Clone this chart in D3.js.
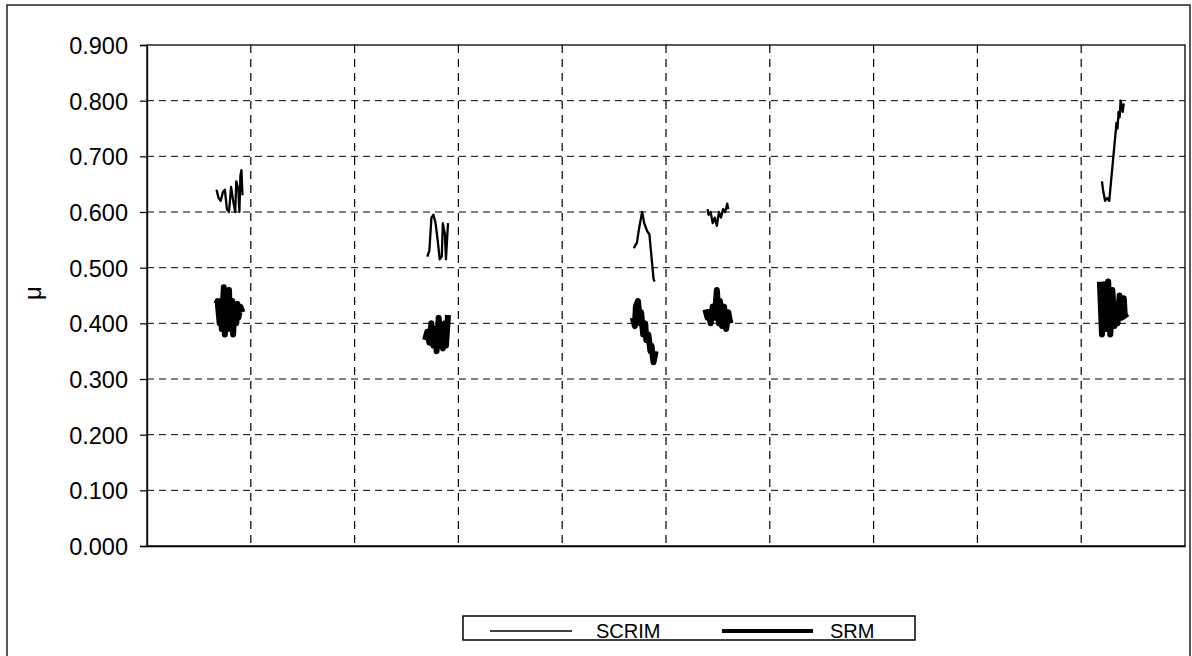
<!DOCTYPE html>
<html><head><meta charset="utf-8">
<script src="https://cdn.jsdelivr.net/npm/d3@7"></script>
<style>body{margin:0;background:#fff;}svg{display:block;font-family:"Liberation Sans",Arial,sans-serif;}</style>
</head><body>
<svg id="chart" width="1192" height="656"></svg>
<script>
// ---- data ----
const yTicks = [0, 0.1, 0.2, 0.3, 0.4, 0.5, 0.6, 0.7, 0.8, 0.9];
const xGrid = [1, 2, 3, 4, 5, 6, 7, 8, 9];
const seriesNames = ["SCRIM", "SRM"];

const scrim1X = [0.67,0.69,0.71,0.73,0.75,0.77,0.79,0.81,0.83,0.85,0.86,0.88,0.89,0.90,0.91,0.92];
const scrim1Y = [0.640,0.625,0.620,0.635,0.640,0.605,0.600,0.645,0.620,0.600,0.655,0.640,0.600,0.665,0.675,0.630];
const scrim2X = [2.70,2.72,2.74,2.76,2.78,2.80,2.82,2.84,2.85,2.87,2.88,2.90];
const scrim2Y = [0.520,0.530,0.590,0.595,0.580,0.550,0.515,0.520,0.580,0.560,0.515,0.580];
const scrim3X = [4.69,4.72,4.74,4.77,4.79,4.82,4.84,4.87,4.88,4.89];
const scrim3Y = [0.535,0.545,0.570,0.600,0.580,0.565,0.560,0.500,0.480,0.475];
const scrim4X = [5.40,5.41,5.43,5.45,5.47,5.49,5.51,5.53,5.55,5.57,5.59,5.60];
const scrim4Y = [0.605,0.595,0.600,0.580,0.590,0.575,0.600,0.590,0.605,0.600,0.615,0.605];
const scrim5X = [9.20,9.21,9.23,9.25,9.27,9.29,9.31,9.33,9.34,9.35,9.36,9.37,9.38,9.40,9.41];
const scrim5Y = [0.655,0.640,0.620,0.625,0.620,0.660,0.700,0.740,0.760,0.750,0.780,0.770,0.800,0.780,0.795];

const srm1X = [0.67,0.68,0.70,0.71,0.72,0.74,0.75,0.76,0.78,0.79,0.80,0.82,0.83,0.84,0.86,0.87,0.88,0.90,0.92];
const srm1Y = [0.435,0.440,0.400,0.440,0.390,0.465,0.380,0.450,0.390,0.460,0.395,0.440,0.380,0.430,0.400,0.435,0.410,0.430,0.420];
const srm2X = [2.68,2.70,2.72,2.74,2.76,2.78,2.79,2.81,2.83,2.85,2.87,2.88,2.90];
const srm2Y = [0.370,0.385,0.365,0.400,0.360,0.390,0.350,0.410,0.370,0.355,0.400,0.360,0.415];
const srm3X = [4.68,4.70,4.71,4.73,4.75,4.76,4.78,4.80,4.81,4.83,4.85,4.86,4.88,4.90];
const srm3Y = [0.410,0.395,0.430,0.440,0.400,0.420,0.380,0.400,0.370,0.380,0.350,0.360,0.330,0.350];
const srm4X = [5.38,5.40,5.41,5.43,5.45,5.47,5.49,5.51,5.52,5.54,5.56,5.58,5.60,5.62];
const srm4Y = [0.425,0.410,0.420,0.400,0.430,0.410,0.460,0.400,0.440,0.395,0.430,0.390,0.420,0.400];
const srm5X = [9.18,9.20,9.22,9.24,9.26,9.28,9.30,9.32,9.33,9.35,9.37,9.39,9.41,9.42,9.44];
const srm5Y = [0.475,0.380,0.470,0.390,0.475,0.380,0.460,0.395,0.430,0.400,0.450,0.410,0.445,0.415,0.410];

// ---- build ----
const zip = (xs, ys) => xs.map((x, i) => ({x, y: ys[i]}));
const scrimSegs = [zip(scrim1X,scrim1Y), zip(scrim2X,scrim2Y), zip(scrim3X,scrim3Y), zip(scrim4X,scrim4Y), zip(scrim5X,scrim5Y)];
const srmSegs = [zip(srm1X,srm1Y), zip(srm2X,srm2Y), zip(srm3X,srm3Y), zip(srm4X,srm4Y), zip(srm5X,srm5Y)];

const svg = d3.select("#chart");
const L = 147, R = 1185, T = 45, B = 546;
const x = d3.scaleLinear().domain([0, 10]).range([L, R]);
const y = d3.scaleLinear().domain([0, 0.9]).range([B, T]);
const FONT = '"Liberation Sans", Arial, sans-serif';

// outer frame
svg.append("rect").attr("x", 7).attr("y", 5).attr("width", 1183).attr("height", 700)
  .attr("fill", "none").attr("stroke", "#000").attr("stroke-width", 1.3);

// grid
const g = svg.append("g");
g.selectAll("line.hg").data(yTicks.filter(d => d > 0 && d < 0.9)).join("line")
  .attr("x1", L).attr("x2", R).attr("y1", d => y(d)).attr("y2", d => y(d))
  .attr("stroke", "#000").attr("stroke-width", 1).attr("stroke-dasharray", "7,5");
g.selectAll("line.vg").data(xGrid).join("line")
  .attr("x1", d => x(d)).attr("x2", d => x(d)).attr("y1", T).attr("y2", B)
  .attr("stroke", "#000").attr("stroke-width", 1.2).attr("stroke-dasharray", "8,6");

// plot border
svg.append("rect").attr("x", L).attr("y", T).attr("width", R - L).attr("height", B - T)
  .attr("fill", "none").attr("stroke", "#000").attr("stroke-width", 1.3);

// y axis
const yAxis = d3.axisLeft(y).tickValues(yTicks).tickFormat(d3.format(".3f")).tickSize(7).tickPadding(12);
const ya = svg.append("g").attr("transform", `translate(${L},0)`).call(yAxis);
ya.select(".domain").attr("stroke", "#000").attr("stroke-width", 1.3);
ya.selectAll(".tick line").attr("stroke", "#000").attr("stroke-width", 1.2);
ya.selectAll(".tick text").attr("fill", "#000").attr("font-size", 23.5)
  .attr("font-family", FONT).attr("dy", "0.36em");

// bottom axis (no labels)
const xa = svg.append("g").attr("transform", `translate(0,${B})`)
  .call(d3.axisBottom(x).tickValues([]).tickSizeOuter(0));
xa.select(".domain").attr("stroke", "#000").attr("stroke-width", 1.3);

// y label
svg.append("text").attr("transform", "translate(41,293) rotate(-90)")
  .attr("text-anchor", "middle").attr("font-size", 24).attr("font-family", FONT).text("μ");

// lines
const line = d3.line().x(d => x(d.x)).y(d => y(d.y));
svg.append("g").selectAll("path").data(scrimSegs).join("path")
  .attr("d", line).attr("fill", "none").attr("stroke", "#000").attr("stroke-width", 2.3)
  .attr("stroke-linejoin", "round");
svg.append("g").selectAll("path").data(srmSegs).join("path")
  .attr("d", line).attr("fill", "none").attr("stroke", "#000").attr("stroke-width", 6)
  .attr("stroke-linejoin", "round");

// legend
const lg = svg.append("g");
lg.append("rect").attr("x", 463).attr("y", 616).attr("width", 452).attr("height", 24)
  .attr("fill", "#fff").attr("stroke", "#000").attr("stroke-width", 1.5);
const items = [{name: seriesNames[0], x1: 490, x2: 572, tx: 596, w: 1.6},
               {name: seriesNames[1], x1: 722, x2: 813, tx: 830, w: 4}];
items.forEach(it => {
  lg.append("line").attr("x1", it.x1).attr("x2", it.x2).attr("y1", 631).attr("y2", 631)
    .attr("stroke", "#000").attr("stroke-width", it.w);
  lg.append("text").attr("x", it.tx).attr("y", 638).attr("font-size", 20)
    .attr("font-family", FONT).text(it.name);
});
</script>
</body></html>
